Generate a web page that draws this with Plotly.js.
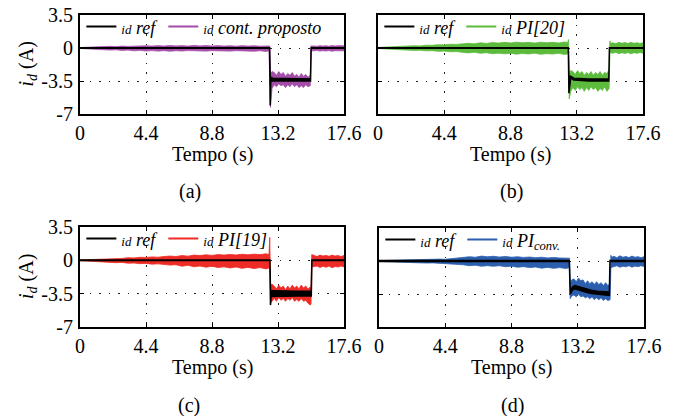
<!DOCTYPE html>
<html>
<head>
<meta charset="utf-8">
<script src="https://cdn.plot.ly/plotly-3.0.1.min.js"></script>
<style>html,body{margin:0;padding:0;background:#fff;}#chart{width:676px;height:416px;}</style>
</head>
<body>
<div id="chart"></div>
<script>
// ---- data ----
const xTickVals = [0, 4.4, 8.8, 13.2, 17.6];
const xTickText = ["0", "4.4", "8.8", "13.2", "17.6"];
const yTickVals = [3.5, 0, -3.5, -7];
const yTickText = ["3.5", "0", "-3.5", "-7"];
const captions = ["(a)", "(b)", "(c)", "(d)"];
const xTitle = "Tempo (s)";
const yTitle = "<i>i</i><sub><i>d</i></sub> (A)";
const seriesNames = ["cont. proposto", "PI[20]", "PI[19]", "PI<sub>conv.</sub>"];

// time samples of the measured current envelopes (s)
const t = [0,0.4,0.8,1.2,1.6,2.0,2.4,2.8,3.2,3.6,4.0,4.4,4.8,5.2,5.6,6.0,6.4,6.8,7.2,7.6,8.0,8.4,8.8,9.2,9.6,10.0,10.4,10.8,11.2,11.6,12.0,12.4,12.6,
  12.65,12.7,12.8,
  12.95,13.1,13.25,13.4,13.55,13.7,13.85,14.0,14.15,14.3,14.45,14.6,14.75,14.9,15.05,15.2,15.35,
  15.4,15.45,
  15.6,15.8,16.0,16.2,16.4,16.6,16.8,17.0,17.2,17.4,17.6];

// (a) proposed controller: upper / lower envelope (A)
const hiA = [0.05,0.08,0.12,0.1,0.15,0.18,0.14,0.2,0.17,0.22,0.19,0.24,0.2,0.25,0.21,0.26,0.22,0.25,0.2,0.27,0.22,0.26,0.21,0.25,0.2,0.24,0.19,0.25,0.2,0.24,0.19,0.26,0.22,
  0.2,-2.7,-2.5,
  -2.6,-2.9,-2.5,-2.8,-2.6,-3.0,-2.7,-2.9,-2.6,-3.0,-2.8,-3.1,-2.7,-3.0,-2.8,-3.1,-2.9,
  0.25,0.2,
  0.22,0.18,0.25,0.2,0.24,0.19,0.26,0.21,0.25,0.2,0.23];
const loA = [-0.05,-0.1,-0.14,-0.12,-0.18,-0.22,-0.19,-0.26,-0.22,-0.3,-0.25,-0.32,-0.27,-0.33,-0.28,-0.34,-0.29,-0.32,-0.27,-0.35,-0.3,-0.33,-0.28,-0.34,-0.3,-0.33,-0.28,-0.35,-0.31,-0.34,-0.29,-0.36,-0.3,
  -0.3,-6.3,-4.3,
  -3.9,-4.1,-3.8,-4.0,-3.9,-4.2,-3.9,-4.1,-3.8,-4.1,-3.9,-4.2,-4.0,-4.2,-3.9,-4.1,-4.0,
  -0.3,-0.25,
  -0.3,-0.26,-0.33,-0.28,-0.32,-0.27,-0.34,-0.29,-0.31,-0.27,-0.3];

// (b) PI[20]
const hiB = [0.06,0.1,0.12,0.16,0.14,0.2,0.24,0.22,0.3,0.28,0.35,0.32,0.4,0.38,0.45,0.5,0.44,0.55,0.48,0.58,0.52,0.6,0.54,0.62,0.55,0.6,0.52,0.62,0.56,0.6,0.53,0.64,0.58,
  0.9,-2.8,-2.4,
  -2.5,-2.8,-2.4,-2.7,-2.5,-2.9,-2.6,-2.8,-2.5,-2.9,-2.6,-2.8,-2.5,-2.9,-2.6,-2.7,-2.3,
  0.75,0.5,
  0.55,0.45,0.6,0.5,0.58,0.47,0.6,0.5,0.56,0.48,0.55];
const loB = [-0.06,-0.1,-0.14,-0.18,-0.16,-0.22,-0.26,-0.24,-0.3,-0.28,-0.35,-0.33,-0.4,-0.38,-0.46,-0.52,-0.45,-0.56,-0.5,-0.6,-0.55,-0.62,-0.56,-0.65,-0.58,-0.63,-0.55,-0.66,-0.6,-0.64,-0.57,-0.68,-0.6,
  -0.6,-5.4,-4.6,
  -4.2,-4.5,-4.1,-4.4,-4.2,-4.6,-4.2,-4.5,-4.1,-4.4,-4.2,-4.6,-4.3,-4.5,-4.1,-4.6,-4.3,
  -0.6,-0.5,
  -0.55,-0.45,-0.6,-0.5,-0.58,-0.48,-0.62,-0.5,-0.57,-0.47,-0.55];

// (c) PI[19]
const hiC = [0.04,0.06,0.1,0.14,0.12,0.18,0.22,0.2,0.28,0.25,0.32,0.3,0.36,0.33,0.4,0.45,0.4,0.5,0.44,0.55,0.5,0.58,0.52,0.6,0.55,0.62,0.56,0.64,0.58,0.65,0.6,0.68,0.62,
  2.4,-2.6,-2.5,
  -2.7,-3.0,-2.6,-2.9,-2.7,-3.1,-2.7,-3.0,-2.6,-2.9,-2.7,-3.0,-2.6,-2.9,-2.7,-3.0,-2.8,
  -2.8,0.6,
  0.5,0.4,0.55,0.45,0.52,0.42,0.55,0.45,0.5,0.4,0.5];
const loC = [-0.04,-0.07,-0.12,-0.16,-0.14,-0.2,-0.25,-0.22,-0.3,-0.28,-0.35,-0.32,-0.4,-0.37,-0.45,-0.5,-0.46,-0.62,-0.52,-0.68,-0.6,-0.72,-0.62,-0.76,-0.68,-0.8,-0.7,-0.84,-0.74,-0.86,-0.76,-0.9,-0.8,
  -0.8,-4.5,-4.3,
  -4.0,-4.3,-3.9,-4.2,-4.0,-4.3,-4.0,-4.2,-3.9,-4.3,-4.1,-4.3,-4.0,-4.3,-4.2,-4.5,-4.7,
  -4.6,-0.7,
  -0.7,-0.6,-0.75,-0.62,-0.72,-0.6,-0.78,-0.65,-0.7,-0.6,-0.68];

// (d) conventional PI
const hiD = [0.04,0.06,0.08,0.1,0.09,0.12,0.15,0.13,0.18,0.16,0.2,0.18,0.25,0.3,0.35,0.45,0.4,0.52,0.45,0.5,0.42,0.48,0.4,0.45,0.38,0.42,0.35,0.4,0.33,0.38,0.32,0.36,0.3,
  0.3,-2.4,-2.0,
  -1.9,-2.2,-1.8,-2.1,-2.0,-2.4,-2.1,-2.4,-2.2,-2.5,-2.2,-2.5,-2.3,-2.6,-2.3,-2.6,-2.4,
  0.6,0.4,
  0.5,0.35,0.55,0.4,0.48,0.36,0.52,0.4,0.46,0.35,0.45];
const loD = [-0.04,-0.07,-0.1,-0.12,-0.11,-0.15,-0.18,-0.16,-0.22,-0.2,-0.25,-0.23,-0.3,-0.35,-0.4,-0.5,-0.45,-0.55,-0.5,-0.56,-0.5,-0.6,-0.55,-0.66,-0.6,-0.7,-0.64,-0.76,-0.68,-0.78,-0.7,-0.8,-0.72,
  -0.7,-4.0,-3.7,
  -3.6,-3.8,-3.5,-3.8,-3.7,-3.9,-3.8,-4.0,-3.8,-4.1,-3.9,-4.1,-3.9,-4.2,-4.0,-4.2,-4.1,
  -0.7,-0.6,
  -0.6,-0.5,-0.66,-0.55,-0.62,-0.5,-0.65,-0.54,-0.6,-0.5,-0.58];

// reference current (black) envelopes
const refTA = [0, 12.64, 12.68, 12.72, 12.85, 13.5, 14.5, 15.37, 15.41, 17.6];
const refHiA = [0.03, 0.03, -3.0, -3.1, -3.2, -3.25, -3.25, -3.25, 0.03, 0.03];
const refLoA = [-0.03, -0.03, -6.1, -3.5, -3.5, -3.5, -3.5, -3.5, -0.03, -0.03];

const refTB = [0, 12.6, 12.64, 12.68, 12.8, 13.0, 14.0, 15.33, 15.37, 17.6];
const refHiB = [0.03, 0.03, 0.03, -3.0, -3.0, -3.2, -3.3, -3.3, 0.03, 0.03];
const refLoB = [-0.03, -0.03, -0.03, -4.8, -3.2, -3.4, -3.5, -3.5, -0.03, -0.03];

const refTC = [0, 12.66, 12.7, 12.74, 12.85, 13.5, 14.5, 15.42, 15.46, 17.6];
const refHiC = [0.03, 0.03, -3.1, -3.2, -3.2, -3.25, -3.25, -3.25, 0.03, 0.03];
const refLoC = [-0.03, -0.03, -4.7, -3.8, -3.75, -3.75, -3.75, -3.75, -0.03, -0.03];

const refTD = [0, 12.6, 12.64, 12.7, 12.85, 13.0, 13.3, 13.7, 14.1, 14.5, 14.9, 15.3, 15.34, 17.6];
const refHiD = [0.04, 0.04, 0.04, -3.2, -2.75, -2.6, -2.75, -2.95, -3.1, -3.2, -3.25, -3.3, 0.04, 0.04];
const refLoD = [-0.04, -0.04, -0.04, -3.5, -3.1, -2.95, -3.1, -3.3, -3.45, -3.55, -3.6, -3.65, -0.04, -0.04];

// ---- styling / layout ----
const colors = ["#a34ca8", "#5cbb3c", "#ee2b26", "#2b5fae"];
const FONT = "Liberation Serif";

const panels = [
  {hi: hiA, lo: loA, rt: refTA, rhi: refHiA, rlo: refLoA},
  {hi: hiB, lo: loB, rt: refTB, rhi: refHiB, rlo: refLoB},
  {hi: hiC, lo: loC, rt: refTC, rhi: refHiC, rlo: refLoC},
  {hi: hiD, lo: loD, rt: refTD, rhi: refHiD, rlo: refLoD}
];

function poly(tt, hi, lo) {
  return {x: tt.concat(tt.slice().reverse()), y: hi.concat(lo.slice().reverse())};
}

// pixel boxes of the four plot areas
const W = 676, H = 416;
const boxes = [
  {l: 80, r: 344, t: 15, b: 114},
  {l: 378, r: 643, t: 15, b: 114},
  {l: 80, r: 344, t: 227, b: 327},
  {l: 379, r: 644, t: 228, b: 327}
];
const capPos = [[190, 191], [511, 191], [189, 405], [512, 405]];

const traces = [];
const layout = {
  width: W, height: H,
  margin: {l: 0, r: 0, t: 0, b: 0},
  paper_bgcolor: "#fff", plot_bgcolor: "#fff",
  font: {family: FONT, size: 20, color: "#000"},
  annotations: [],
  showlegend: true
};

panels.forEach((p, i) => {
  const n = i === 0 ? "" : String(i + 1);
  const xa = "x" + n, ya = "y" + n;
  const lg = i === 0 ? "legend" : "legend" + (i + 1);
  const m = poly(t, p.hi, p.lo);
  const r = poly(p.rt, p.rhi, p.rlo);
  // legend entries
  traces.push({x: [null], y: [null], xaxis: xa, yaxis: ya, legend: lg, mode: "lines",
    name: '<i><span style="font-size:13px">id</span> ref</i>', line: {color: "#000", width: 2}});
  traces.push({x: [null], y: [null], xaxis: xa, yaxis: ya, legend: lg, mode: "lines",
    name: '<i><span style="font-size:13px">id</span> ' + seriesNames[i] + '</i>', line: {color: colors[i], width: 2}});
  // measured band
  traces.push({x: m.x, y: m.y, xaxis: xa, yaxis: ya, mode: "lines", fill: "toself",
    fillcolor: colors[i], line: {color: colors[i], width: 0.8}, showlegend: false, hoverinfo: "skip"});
  // reference
  traces.push({x: r.x, y: r.y, xaxis: xa, yaxis: ya, mode: "lines", fill: "toself",
    fillcolor: "#000", line: {color: "#000", width: 1.5}, showlegend: false, hoverinfo: "skip"});

  const bx = boxes[i];
  const xdom = [bx.l / W, bx.r / W];
  const ydom = [1 - bx.b / H, 1 - bx.t / H];
  layout["xaxis" + n] = {
    domain: xdom, anchor: ya, range: [0, 17.6],
    tickmode: "array", tickvals: xTickVals, ticktext: xTickText,
    ticks: "inside", ticklen: 4, tickwidth: 1, tickcolor: "#000",
    showline: true, linecolor: "#000", linewidth: 2, mirror: "ticks",
    showgrid: true, gridcolor: "#222", gridwidth: 1, griddash: "1.5px,8px",
    zeroline: false, ticklabelstandoff: 0,
    tickfont: {family: FONT, size: 20, color: "#000"}
  };
  layout["yaxis" + n] = {
    domain: ydom, anchor: xa, range: [-7, 3.5],
    tickmode: "array", tickvals: yTickVals, ticktext: yTickText,
    ticks: "inside", ticklen: 4, tickwidth: 1, tickcolor: "#000",
    showline: true, linecolor: "#000", linewidth: 2, mirror: "ticks",
    showgrid: true, gridcolor: "#222", gridwidth: 1, griddash: "1.5px,8px",
    zeroline: false, showticklabels: (i % 2 === 0), ticklabelstandoff: 1,
    tickfont: {family: FONT, size: 20, color: "#000"}
  };
  layout[lg] = {
    orientation: "h", x: xdom[0] + 0.002, y: ydom[1] + 0.016, xanchor: "left", yanchor: "top",
    bgcolor: "rgba(0,0,0,0)", borderwidth: 0,
    font: {family: FONT, size: 18, color: "#000"},
    itemwidth: 30, tracegroupgap: 0
  };
  // x-axis title
  layout.annotations.push({
    text: xTitle, xref: "paper", yref: "paper",
    x: (bx.l + bx.r) / 2 / W, y: 1 - (bx.b + 40) / H, xanchor: "center", yanchor: "middle",
    showarrow: false, font: {family: FONT, size: 20, color: "#000"}
  });
  // y-axis title (left column only)
  if (i % 2 === 0) {
    layout.annotations.push({
      text: yTitle, xref: "paper", yref: "paper", textangle: -90,
      x: 27 / W, y: 1 - (bx.t + bx.b) / 2 / H, xanchor: "center", yanchor: "middle",
      showarrow: false, font: {family: FONT, size: 20, color: "#000"}
    });
  }
  // sub-figure caption
  layout.annotations.push({
    text: captions[i], xref: "paper", yref: "paper",
    x: capPos[i][0] / W, y: 1 - capPos[i][1] / H, xanchor: "center", yanchor: "middle",
    showarrow: false, font: {family: FONT, size: 20, color: "#000"}
  });
});

Plotly.newPlot("chart", traces, layout, {staticPlot: true, displayModeBar: false});
</script>
</body>
</html>
